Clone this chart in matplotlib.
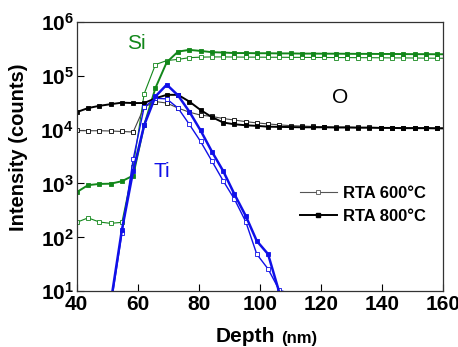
import numpy as np
import matplotlib
matplotlib.use("Agg")
import matplotlib.pyplot as plt

# depth axis of the SIMS profile (nm)
depth = [40.0, 43.7, 47.4, 51.1, 54.8, 58.5, 62.1, 65.8, 69.5, 73.2, 76.9,
         80.6, 84.3, 88.0, 91.7, 95.4, 99.0, 102.7, 106.4, 110.1, 113.8,
         117.5, 121.2, 124.9, 128.6, 132.2, 135.9, 139.6, 143.3, 147.0,
         150.7, 154.4, 158.1, 161.8]

nan = np.nan

# Si
si_600 = [190, 230, 193, 182, 190, 2000, 46000, 160000, 190000, 200000, 215000,
          220000, 222000, 222000, 221000, 220000, 220000, 219000, 219000, 218000,
          218000, 217000, 217000, 216000, 216000, 215000, 215000, 214000, 213000,
          213000, 212000, 211000, 210000, 210000]
si_800 = [690, 930, 980, 990, 1100, 1400, 12000, 59000, 177000, 279000, 300000,
          287000, 272000, 268000, 262000, 262000, 260000, 260000, 258000, 258000,
          256000, 256000, 255000, 255000, 254000, 253000, 253000, 252000, 252000,
          251000, 250000, 250000, 249000, 249000]

# O
o_600 = [9600, 9500, 9500, 9400, 9200, 9000, 26000, 33000, 31000, 25000, 21000,
         18500, 17500, 16000, 15000, 14000, 13300, 12700, 12200, 11800, 11600,
         11400, 11200, 11100, 11100, 11000, 11000, 10900, 10900, 10800, 10800,
         10800, 10700, 10700]
o_800 = [21000, 25000, 27500, 29500, 31500, 31000, 31000, 38000, 44000, 44000, 33000,
         23000, 17000, 13500, 12500, 12000, 11700, 11300, 11200, 11100, 11000,
         11000, 11000, 10900, 10900, 10800, 10800, 10700, 10700, 10600, 10600,
         10600, 10500, 10500]

# Ti
ti_600 = [nan, nan, nan, 5, 120, 2800, 26000, 38000, 37000, 25000, 12500,
          6000, 2600, 1120, 510, 195, 49, 26, 10.5, 9, nan, nan, nan, nan, nan,
          nan, nan, nan, nan, nan, nan, nan, nan, nan]
ti_800 = [nan, nan, nan, 6, 137, 1700, 12000, 41000, 68000, 43000, 21500,
          9600, 3900, 1700, 630, 250, 86, 49, 9.5, nan, nan, nan, nan, nan, nan,
          nan, nan, nan, nan, nan, nan, nan, nan, nan]

legend_labels = ["RTA 600\u00b0C", "RTA 800\u00b0C"]

plt.rcParams['font.family'] = ['Liberation Sans', 'DejaVu Sans']
plt.rcParams['mathtext.fontset'] = 'custom'
plt.rcParams['mathtext.rm'] = 'Liberation Sans'
plt.rcParams['mathtext.bf'] = 'Liberation Sans:bold'

green = '#12871a'
blue = '#1010e8'

fig = plt.figure(figsize=(4.58, 3.47), dpi=100)
ax = fig.add_axes([0.1675, 0.1605, 0.7995, 0.777])

def series(y, color, filled, lw_open=0.8, lw_fill=1.4, line_open=None):
    if filled:
        ax.plot(depth, y, '-s', color=color, lw=lw_fill, ms=3.2,
                mfc=color, mec=color, mew=0.6)
    else:
        ax.plot(depth, y, '-s', color=line_open or color, lw=lw_open, ms=3.4,
                mfc='white', mec=color, mew=0.6)

series(si_600, green, False)
series(si_800, green, True)
series(o_600, 'black', False, line_open='#444444')
series(o_800, 'black', True)
series(ti_600, blue, False, lw_open=1.0)
series(ti_800, blue, True, lw_fill=1.8)

ax.set_yscale('log')
ax.set_xlim(40, 160)
ax.set_ylim(10, 1e6)

ax.set_xticks([40, 60, 80, 100, 120, 140, 160])
ax.set_xticklabels(['40', '60', '80', '100', '120', '140', '160'],
                   fontsize=15, fontweight='bold')
yt = [1e1, 1e2, 1e3, 1e4, 1e5, 1e6]
ax.set_yticks(yt)
ax.set_yticklabels([r'$\mathbf{10^{%d}}$' % int(np.log10(v)) for v in yt],
                   fontsize=15)
ax.minorticks_off()
ax.tick_params(direction='in', length=5, width=0.8, top=False, right=False)
ax.tick_params(axis='x', pad=3)
ax.tick_params(axis='y', pad=2)
for s in ax.spines.values():
    s.set_linewidth(0.9)
    s.set_color('#333333')

# legend entries drawn with proxy handles
h1, = ax.plot([], [], '-s', color='#555555', lw=0.8, ms=3.4, mfc='white', mec='#555555', mew=0.6)
h2, = ax.plot([], [], '-s', color='black', lw=1.4, ms=3.2)
ax.legend([h1, h2], legend_labels, frameon=False, loc='center left',
          bbox_to_anchor=(0.61, 0.32), borderpad=0, borderaxespad=0,
          handlelength=2.2, handletextpad=0.4, labelspacing=0.45,
          prop={'size': 12, 'weight': 'bold'})

ax.text(59.7, 10**5.59, 'Si', color=green, fontsize=15, ha='center', va='center')
ax.text(126.3, 10**4.59, 'O', color='black', fontsize=15, ha='center', va='center')
ax.text(68.0, 10**3.22, 'Ti', color=blue, fontsize=15, ha='center', va='center')

fig.text(216 / 458, 1 - 342.5 / 347, 'Depth', fontsize=15, fontweight='bold',
         ha='left', va='baseline')
fig.text(281 / 458, 1 - 342.5 / 347, '(nm)', fontsize=12, fontweight='bold',
         ha='left', va='baseline')
fig.text(18.5 / 458, 1 - 147.5 / 347, 'Intensity (counts)', fontsize=14.5,
         fontweight='bold', rotation=90, ha='center', va='center')

fig.savefig('out.png', dpi=100)
